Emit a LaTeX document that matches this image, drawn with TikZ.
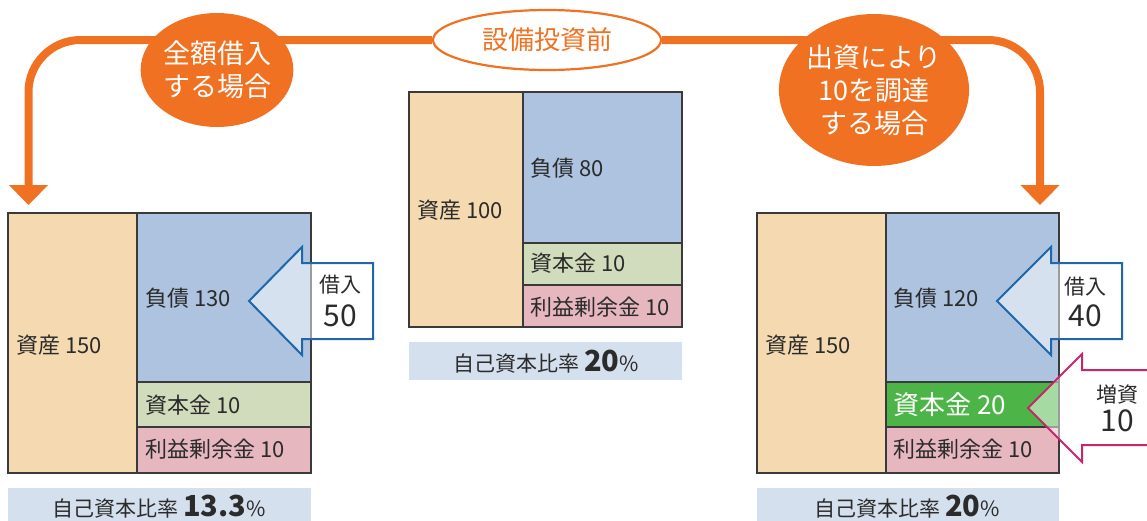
\documentclass[tikz,border=0pt]{standalone}
\usepackage{fontspec}
\setmainfont{Noto Sans CJK JP}
\usetikzlibrary{arrows.meta,shapes.geometric,backgrounds}
\definecolor{orangeC}{HTML}{F07122}
\definecolor{beigeC}{HTML}{F5DAB1}
\definecolor{blueC}{HTML}{ADC3E0}
\definecolor{lgreenC}{HTML}{D1DCBC}
\definecolor{pinkC}{HTML}{E7B7C0}
\definecolor{bandC}{HTML}{D5E0EE}
\definecolor{arrowB}{HTML}{1F66AA}
\definecolor{magC}{HTML}{C8266C}
\definecolor{greenC}{HTML}{4DB548}
\definecolor{lineC}{HTML}{3A3A3A}
\definecolor{textC}{HTML}{2B2B2B}
\newcommand{\fsz}[2]{\fontsize{#1}{#2}\selectfont}
\begin{document}
\begin{tikzpicture}[x=1pt,y=-1pt,
  cell/.style={draw=lineC, line width=1.2pt, fill=#1, anchor=north west, inner sep=0pt, outer sep=0pt},
  band/.style={fill=bandC, anchor=north west, inner sep=0pt, outer sep=0pt},
  lbl/.style={anchor=west, inner sep=0pt, text=textC, font=\fsz{22}{22}},
  oline/.style={draw=orangeC, line width=8pt, rounded corners=52pt, -{Triangle[width=38pt,length=20pt]}},
  oball/.style={ellipse, fill=orangeC, text=white, align=center, font=\fsz{27}{33}, inner sep=0pt},
  barrow/.style={draw=arrowB, line width=2pt, fill=white, fill opacity=0.5, line join=miter},
  marrow/.style={draw=magC, line width=2pt, fill=white, fill opacity=0.5, line join=miter},
  atext/.style={text=textC, align=center, inner sep=0pt},
]
\clip (0,0) rectangle (1147,520);

% ---- center block (before investment)
\node[cell=beigeC, minimum width=114, minimum height=235] (CA) at (409,92) {};
\node[cell=blueC, minimum width=159, minimum height=151] (CL) at (523,92) {};
\node[cell=lgreenC, minimum width=159, minimum height=42] (CC) at (523,243) {};
\node[cell=pinkC, minimum width=159, minimum height=42] (CR) at (523,285) {};
\node[band, minimum width=273, minimum height=38] (CB) at (409,342) {};
\node[lbl] (CAt) at (417,210) {資産 100};
\node[lbl] (CLt) at (530,168) {負債 80};
\node[lbl] (CCt) at (530,263) {資本金 10};
\node[lbl] (CRt) at (530,307) {利益剰余金 10};
\node[atext, font=\fsz{21}{21}] (CBt) at (546,362) {自己資本比率 {\fsz{29}{29}\bfseries 20}\%};

% ---- left block (full borrowing)
\node[cell=beigeC, minimum width=129, minimum height=260] (LA) at (8,213) {};
\node[cell=blueC, minimum width=174, minimum height=169] (LL) at (137,213) {};
\node[cell=lgreenC, minimum width=174, minimum height=45] (LC) at (137,382) {};
\node[cell=pinkC, minimum width=174, minimum height=46] (LR) at (137,427) {};
\node[band, minimum width=303, minimum height=40] (LB) at (8,488) {};
\node[lbl] (LAt) at (16,345) {資産 150};
\node[lbl] (LLt) at (145,298) {負債 130};
\node[lbl] (LCt) at (145,405) {資本金 10};
\node[lbl] (LRt) at (145,449) {利益剰余金 10};
\node[atext, font=\fsz{21}{21}] (LBt) at (159,507) {自己資本比率 {\fsz{29}{29}\bfseries 13.3}\%};

% ---- right block (capital increase)
\node[cell=beigeC, minimum width=129, minimum height=260] (RA) at (757,213) {};
\node[cell=blueC, minimum width=173, minimum height=169] (RL) at (886,213) {};
\node[cell=greenC, minimum width=173, minimum height=45] (RC) at (886,382) {};
\node[cell=pinkC, minimum width=173, minimum height=46] (RR) at (886,427) {};
\node[band, minimum width=302, minimum height=40] (RB) at (757,488) {};
\node[lbl] (RAt) at (765,345) {資産 150};
\node[lbl] (RLt) at (893,298) {負債 120};
\node[lbl, text=white, font=\fsz{26}{26}] (RCt) at (893,405) {資本金 20};
\node[lbl] (RRt) at (893,449) {利益剰余金 10};
\node[atext, font=\fsz{21}{21}] (RBt) at (907,507) {自己資本比率 {\fsz{29}{29}\bfseries 20}\%};

% ---- block arrows
\draw[barrow] (249,301) -- (302,247) -- (302,263) -- (373,263) -- (373,339) -- (302,339) -- (302,355) -- cycle;
\node[atext, font=\fsz{21}{21}] (Lk1) at (340,285) {借入};
\node[atext, font=\fsz{30}{30}] (Lk2) at (340,316) {50};

\draw[barrow] (997,301) -- (1051,247) -- (1051,263) -- (1122,263) -- (1122,339) -- (1051,339) -- (1051,355) -- cycle;
\node[atext, font=\fsz{21}{21}] (Rk1) at (1085,287) {借入};
\node[atext, font=\fsz{30}{30}] (Rk2) at (1085,316) {40};

\draw[marrow] (1028,408) -- (1082,354) -- (1082,370) -- (1165,370) -- (1165,445) -- (1082,445) -- (1082,462) -- cycle;
\node[atext, font=\fsz{21}{21}] (Rz1) at (1117,395) {増資};
\node[atext, font=\fsz{30}{30}] (Rz2) at (1117,421) {10};

% ---- top ellipses
\node[ellipse, draw=orangeC, line width=2.2pt, fill=white, minimum width=228, minimum height=60, text=orangeC, font=\fsz{26}{26}, inner sep=0pt] (pre) at (547,40) {設備投資前};
\node[oball, minimum width=151, minimum height=114] (lball) at (217,70) {全額借入\\する場合};
\node[oball, minimum width=188, minimum height=152] (rball) at (874,90) {出資により\\10を調達\\する場合};

\coordinate (Ltip) at (28.5,205);
\coordinate (Rtip) at (1040,205);
\begin{scope}[on background layer]
\draw[oline] (pre.west) -| (Ltip);
\draw[oline] (pre.east) -| (Rtip);
\end{scope}
\end{tikzpicture}
\end{document}
